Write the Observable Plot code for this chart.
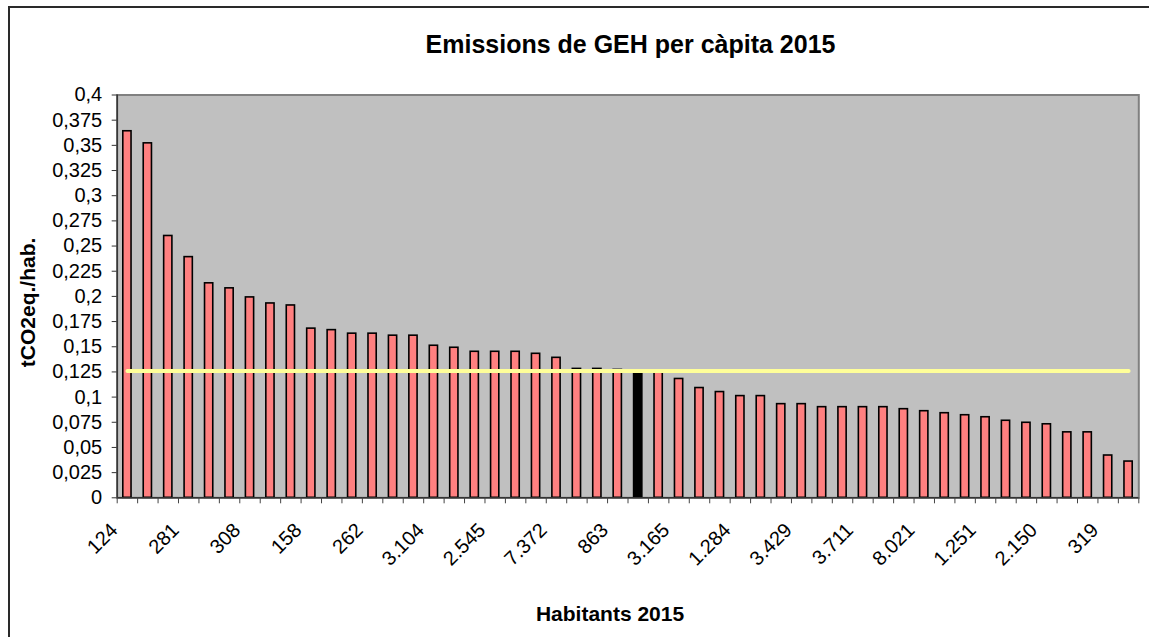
<!DOCTYPE html>
<html>
<head>
<meta charset="utf-8">
<script src="https://cdn.jsdelivr.net/npm/d3@7"></script>
<script src="https://cdn.jsdelivr.net/npm/@observablehq/plot@0.6"></script>
<style>
  html, body { margin: 0; padding: 0; background: #fff; overflow: hidden; }
  #wrap { position: relative; width: 1149px; height: 637px; overflow: hidden; }
  #border { position: absolute; left: 8px; top: 6px; width: 1200px; height: 700px; border: 2px solid #2a2a2a; box-sizing: border-box; }
  #chart { position: absolute; left: 0; top: 0; }
</style>
</head>
<body>
<div id="wrap"><div id="border"></div><div id="chart"></div></div>
<script>
// Emissions per capita (tCO2eq./hab.), one bar per municipality, sorted descending
const emissions = [0.364,0.352,0.260,0.239,0.213,0.208,0.199,0.193,0.191,0.168,
  0.1665,0.163,0.163,0.161,0.161,0.151,0.149,0.145,0.145,0.145,
  0.143,0.139,0.128,0.128,0.127,0.126,0.125,0.118,0.109,0.105,
  0.101,0.101,0.093,0.093,0.090,0.090,0.090,0.090,0.088,0.086,
  0.084,0.082,0.080,0.0765,0.0745,0.073,0.065,0.065,0.042,0.036];
// Population (Habitants 2015) shown under every third bar
const populationLabels = ["124","281","308","158","262","3.104","2.545","7.372","863",
  "3.165","1.284","3.429","3.711","8.021","1.251","2.150","319"];
const labelEvery = 3;
const highlightIndex = 25;      // black bar
const average = 0.1258;         // yellow average line
const yTicks = [0,0.025,0.05,0.075,0.1,0.125,0.15,0.175,0.2,0.225,0.25,0.275,0.3,0.325,0.35,0.375,0.4];

const data = emissions.map((v, i) => ({i, v}));
const avgSeries = emissions.map((v, i) => ({i, v: average}));
const boundaries = d3.range(emissions.length + 1);
const labelPositions = populationLabels.map((_, k) => k * labelEvery + 0.5);

const fmtY = d => String(+d.toFixed(3)).replace(".", ",");

const chart = Plot.plot({
  width: 1149,
  height: 637,
  marginLeft: 116.7,
  marginRight: 10.7,
  marginTop: 94.5,
  marginBottom: 139.7,
  style: {fontFamily: "'Liberation Sans', Arial, sans-serif", fontSize: "20px", background: "transparent", color: "black"},
  x: {domain: [0, emissions.length], axis: null},
  y: {domain: [0, 0.4], axis: null},
  marks: [
    Plot.frame({fill: "#C0C0C0", stroke: "#808080", strokeWidth: 2}),
    Plot.rectY(data, {
      x1: d => d.i, x2: d => d.i + 1, y1: 0, y2: "v",
      insetLeft: 6.1, insetRight: 6.1,
      fill: d => d.i === highlightIndex ? "black" : "#FF8080",
      stroke: "black", strokeWidth: 1.6
    }),
    Plot.lineY(avgSeries, {x: d => d.i + 0.5, y: "v", stroke: "#FFFF99", strokeWidth: 4}),
    Plot.ruleX([0], {stroke: "#333", strokeWidth: 1.5}),
    Plot.ruleY([0], {stroke: "#333", strokeWidth: 1.5}),
    Plot.axisY({ticks: yTicks, tickSize: 5, tickPadding: 10, tickFormat: fmtY, stroke: "#333", fill: "black", label: null}),
    Plot.axisX({ticks: boundaries, tickSize: 6, fill: "none", stroke: "#444", label: null}),
    Plot.axisX({ticks: labelPositions, tickSize: 0, tickRotate: -45, tickPadding: 29, dx: -13, label: null,
      tickFormat: (d, k) => populationLabels[Math.round((d - 0.5) / labelEvery)], fill: "black"}),
    Plot.text(["Emissions de GEH per càpita 2015"], {frameAnchor: "top", dy: -50.5, dx: 2.5,
      fontSize: 25, fontWeight: "bold", lineAnchor: "middle"}),
    Plot.text(["Habitants 2015"], {frameAnchor: "bottom", dy: 116, dx: -18,
      fontSize: 21, fontWeight: "bold", lineAnchor: "middle"}),
    Plot.text(["tCO2eq./hab."], {frameAnchor: "left", dx: -89, dy: 6, rotate: -90, textAnchor: "middle",
      fontSize: 21, fontWeight: "bold", lineAnchor: "middle"})
  ]
});
document.getElementById("chart").appendChild(chart);
</script>
</body>
</html>
